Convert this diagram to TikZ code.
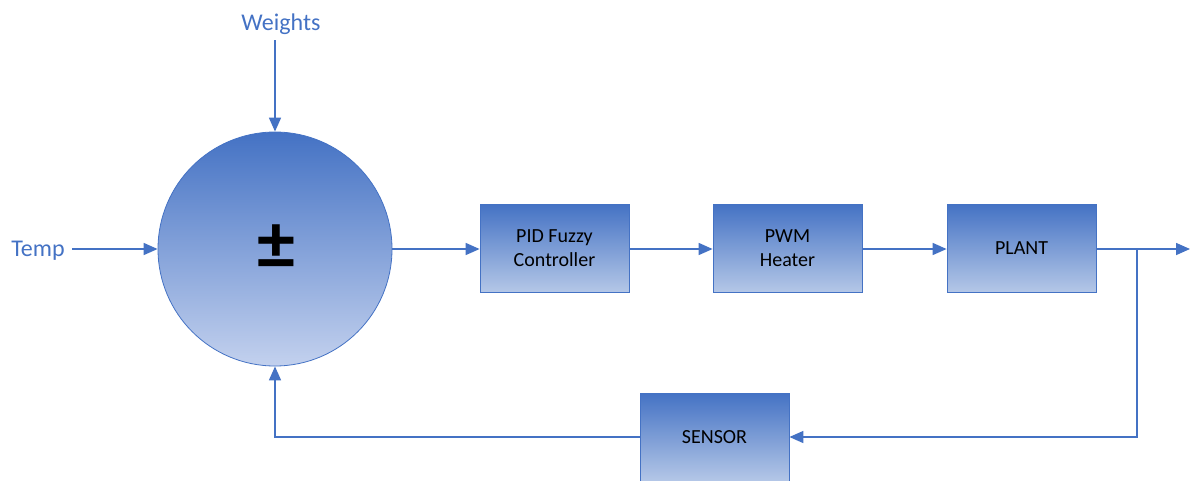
\documentclass[tikz,border=0pt]{standalone}
\usepackage{fontspec}
\setmainfont{Carlito}
\usepackage{xcolor}
\usetikzlibrary{arrows.meta}
\definecolor{accent}{HTML}{4472C4}
\definecolor{paleaccent}{HTML}{B4C7E7}
\definecolor{palecircle}{HTML}{C3D1EE}

\begin{document}
\begin{tikzpicture}[x=1pt,y=-1pt]
\tikzstyle{every node}+=[inner sep=0pt]
\tikzstyle{block}=[draw=accent, line width=0.8pt, top color=accent, bottom color=paleaccent,
  minimum width=149pt, minimum height=88pt, align=center,
  font=\fontsize{20}{24}\selectfont]
\tikzstyle{signal}=[accent, line width=1.6pt, -{Triangle[length=14pt,width=12pt]}]
\tikzstyle{label}=[text=accent, font=\fontsize{24}{28}\selectfont]
\useasboundingbox (0,0) rectangle (1190,480);
\node [circle, draw=accent, line width=0.8pt, top color=accent, bottom color=palecircle,
  minimum size=234pt] (sum) at (275,249) {};
\node [font=\fontsize{76}{80}\bfseries\selectfont] (sign) at (276,247) {±};
\node [block] (pid) at (554.5,248) {PID Fuzzy\\Controller};
\node [block] (pwm) at (787.5,248) {PWM\\Heater};
\node [block] (plant) at (1021.5,248) {PLANT};
\node [block] (sensor) at (714.5,437) {SENSOR};
\node [label] (temp) at (38,251) {Temp};
\node [label] (weights) at (281,24) {Weights};
\coordinate (tempend) at (72,249);
\coordinate (weightsend) at (275,40);
\coordinate (branch) at (1137,249);
\coordinate (output) at (1190,249);
\coordinate (down) at (1137,437);
\coordinate (back) at (275,437);
\draw [signal] (tempend) -- (sum.west);
\draw [signal] (weightsend) -- (sum.north);
\draw [signal] (sum.east) -- (pid.west |- sum.east);
\draw [signal] (pid.east |- sum.east) -- (pwm.west |- sum.east);
\draw [signal] (pwm.east |- sum.east) -- (plant.west |- sum.east);
\draw [signal] (plant.east |- sum.east) -- (output);
\draw [signal] (branch) -- (down) -- (sensor.east |- down);
\draw [signal] (sensor.west |- down) -- (back) -- (sum.south);
\end{tikzpicture}
\end{document}
